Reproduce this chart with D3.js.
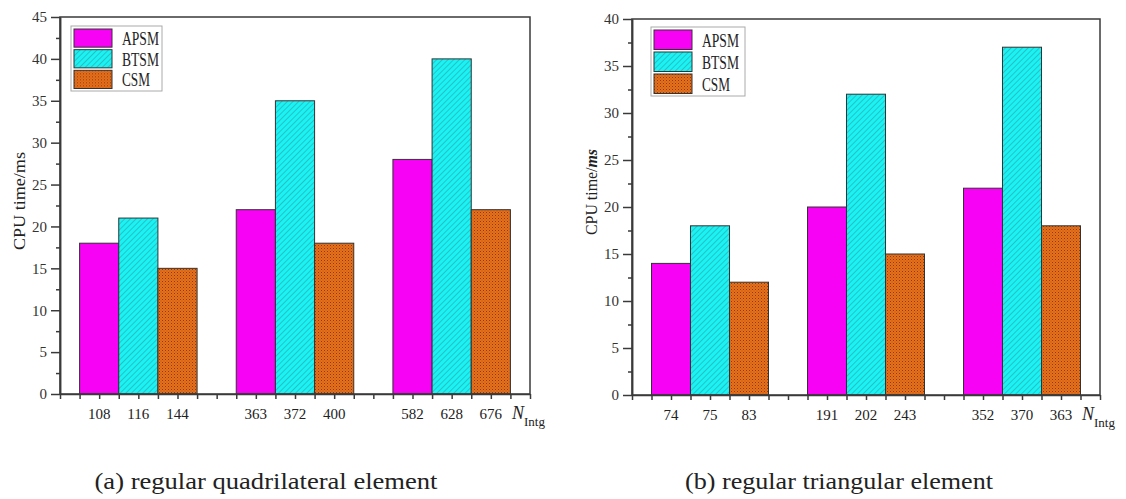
<!DOCTYPE html>
<html>
<head>
<meta charset="utf-8">
<script src="https://cdn.jsdelivr.net/npm/d3@7"></script>
<style>
    body { margin: 0; background: #fff; }
    svg text { font-family: "Liberation Serif", "DejaVu Serif", serif; fill: #222; }
    .axis path, .axis line { stroke: #3a3a3a; stroke-width: 1.5; }
    .axis text { font-family: "Liberation Serif", "DejaVu Serif", serif; font-size: 15px; fill: #333; }
</style>
</head>
<body>
<svg id="chart" width="1126" height="499"></svg>
<script>
const seriesNames = ['APSM', 'BTSM', 'CSM'];

// (a) regular quadrilateral element
const nIntgA = ['108', '116', '144', '363', '372', '400', '582', '628', '676'];
const apsmA = [18, 22, 28];
const btsmA = [21, 35, 40];
const csmA = [15, 18, 22];
const yTicksA = [0, 5, 10, 15, 20, 25, 30, 35, 40, 45];

// (b) regular triangular element
const nIntgB = ['74', '75', '83', '191', '202', '243', '352', '370', '363'];
const apsmB = [14, 20, 22];
const btsmB = [18, 32, 37];
const csmB = [12, 15, 18];
const yTicksB = [0, 5, 10, 15, 20, 25, 30, 35, 40];

const panels = [
    {
        labels: nIntgA, values: [apsmA, btsmA, csmA], yTicks: yTicksA,
        left: 60, top: 17, right: 530, bottom: 394,
        title: '(a) regular quadrilateral element', titleX: 266, titleLen: 343,
        yLabelX: 19, yLabelY: 201, yLabelLen: 98, italicUnit: false,
        legend: {x: 11, y: 9, w: 91, h: 65}
    },
    {
        labels: nIntgB, values: [apsmB, btsmB, csmB], yTicks: yTicksB,
        left: 632, top: 19, right: 1100, bottom: 395,
        title: '(b) regular triangular element', titleX: 839, titleLen: 308,
        yLabelX: 591, yLabelY: 192, yLabelLen: 86, italicUnit: true,
        legend: {x: 19, y: 8, w: 94, h: 69}
    }
];

const svg = d3.select('#chart');
const defs = svg.append('defs');

// APSM: plain magenta
// BTSM: cyan with "/" hatch
const hatch = defs.append('pattern')
    .attr('id', 'fill-BTSM')
    .attr('patternUnits', 'userSpaceOnUse')
    .attr('width', 4)
    .attr('height', 4)
    .attr('patternTransform', 'rotate(45)');
hatch.append('rect').attr('width', 4).attr('height', 4).attr('fill', '#18f4f4');
hatch.append('line')
    .attr('x1', 0).attr('y1', 0).attr('x2', 0).attr('y2', 4)
    .attr('stroke', '#3b9aa6')
    .attr('stroke-width', 1.2);

// CSM: orange with fine dark dots
const dots = defs.append('pattern')
    .attr('id', 'fill-CSM')
    .attr('patternUnits', 'userSpaceOnUse')
    .attr('width', 3)
    .attr('height', 3);
dots.append('rect').attr('width', 3).attr('height', 3).attr('fill', '#e8701c');
dots.append('rect').attr('width', 1).attr('height', 1).attr('fill', '#8c3c08');
dots.append('rect').attr('x', 1.5).attr('y', 1.5).attr('width', 1).attr('height', 1).attr('fill', '#b0500e');

const fills = {APSM: '#f802f6', BTSM: 'url(#fill-BTSM)', CSM: 'url(#fill-CSM)'};

panels.forEach(p => drawPanel(p));

function drawPanel(p) {
    const width = p.right - p.left;
    const height = p.bottom - p.top;

    const g = svg.append('g')
        .attr('transform', `translate(${p.left}, ${p.top})`);

    const groups = d3.range(p.values[0].length);
    const x0 = d3.scaleBand()
        .domain(groups)
        .range([0, width])
        .paddingInner(0.25)
        .paddingOuter(0.125);
    const x1 = d3.scaleBand()
        .domain(seriesNames)
        .range([0, x0.bandwidth()]);
    // tick marks every half bar width
    const xTickScale = d3.scaleLinear()
        .domain([0, groups.length * 8])
        .range([0, width]);
    const y = d3.scaleLinear()
        .domain([0, d3.max(p.yTicks)])
        .range([height, 0]);

    const bars = [];
    groups.forEach(gi => {
        seriesNames.forEach((s, si) => {
            bars.push({group: gi, series: s, value: p.values[si][gi], label: p.labels[gi * seriesNames.length + si]});
        });
    });

    g.selectAll('.bar')
        .data(bars)
        .join('rect')
        .attr('class', 'bar')
        .attr('x', d => x0(d.group) + x1(d.series))
        .attr('y', d => y(d.value))
        .attr('width', x1.bandwidth())
        .attr('height', d => height - y(d.value))
        .attr('fill', d => fills[d.series])
        .attr('stroke', '#333')
        .attr('stroke-width', 1);

    // frame (top and right)
    g.append('rect')
        .attr('width', width)
        .attr('height', height)
        .attr('fill', 'none')
        .attr('stroke', '#3a3a3a')
        .attr('stroke-width', 1.5);

    g.append('g')
        .attr('class', 'axis')
        .attr('transform', `translate(0, ${height})`)
        .call(d3.axisBottom(xTickScale)
            .tickValues(d3.range(0, groups.length * 8 + 1))
            .tickSize(5)
            .tickSizeOuter(0)
            .tickFormat(''));

    g.selectAll('.n-label')
        .data(bars)
        .join('text')
        .attr('class', 'n-label')
        .attr('x', d => x0(d.group) + x1(d.series) + x1.bandwidth() / 2)
        .attr('y', height + 25)
        .attr('text-anchor', 'middle')
        .attr('font-size', 15)
        .attr('fill', '#333')
        .text(d => d.label);

    const nLabel = g.append('text')
        .attr('x', width - 18)
        .attr('y', height + 25)
        .attr('fill', '#333');
    nLabel.append('tspan').attr('font-size', 18).attr('font-style', 'italic').text('N');
    nLabel.append('tspan').attr('font-size', 13).attr('dy', 7).text('Intg');

    g.append('g')
        .attr('class', 'axis')
        .call(d3.axisLeft(y)
            .tickValues(p.yTicks.slice(0, -1).map(v => v + 2.5))
            .tickSize(4)
            .tickSizeOuter(0)
            .tickFormat(''));

    g.append('g')
        .attr('class', 'axis')
        .call(d3.axisLeft(y)
            .tickValues(p.yTicks)
            .tickSize(9)
            .tickPadding(4)
            .tickSizeOuter(0));

    const yLabel = svg.append('text')
        .attr('transform', `translate(${p.yLabelX}, ${p.yLabelY}) rotate(-90)`)
        .attr('text-anchor', 'middle')
        .attr('dy', '0.35em')
        .attr('font-size', 17)
        .attr('textLength', p.yLabelLen)
        .attr('lengthAdjust', 'spacingAndGlyphs')
        .attr('fill', '#333');
    yLabel.append('tspan').text('CPU time/');
    yLabel.append('tspan')
        .attr('font-style', p.italicUnit ? 'italic' : null)
        .attr('font-weight', p.italicUnit ? 'bold' : null)
        .text('ms');

    // legend
    const lg = g.append('g')
        .attr('transform', `translate(${p.legend.x}, ${p.legend.y})`);
    lg.append('rect')
        .attr('width', p.legend.w)
        .attr('height', p.legend.h)
        .attr('fill', '#fff')
        .attr('stroke', '#aaa')
        .attr('stroke-width', 1);
    const step = (p.legend.h - 3) / seriesNames.length;
    const rows = lg.selectAll('.legend-row')
        .data(seriesNames)
        .join('g')
        .attr('class', 'legend-row')
        .attr('transform', (d, i) => `translate(3, ${3 + i * step})`);
    rows.append('rect')
        .attr('width', 38)
        .attr('height', step - 2.5)
        .attr('fill', d => fills[d])
        .attr('stroke', '#333')
        .attr('stroke-width', 1);
    rows.append('text')
        .attr('x', 48)
        .attr('y', (step - 2.5) / 2)
        .attr('dy', '0.36em')
        .attr('font-size', 19)
        .attr('textLength', d => d === 'CSM' ? 28 : 37)
        .attr('lengthAdjust', 'spacingAndGlyphs')
        .text(d => d);

    svg.append('text')
        .attr('x', p.titleX)
        .attr('y', 489)
        .attr('text-anchor', 'middle')
        .attr('font-size', 24)
        .attr('textLength', p.titleLen)
        .attr('lengthAdjust', 'spacingAndGlyphs')
        .attr('fill', '#111')
        .text(p.title);
}
</script>
</body>
</html>
